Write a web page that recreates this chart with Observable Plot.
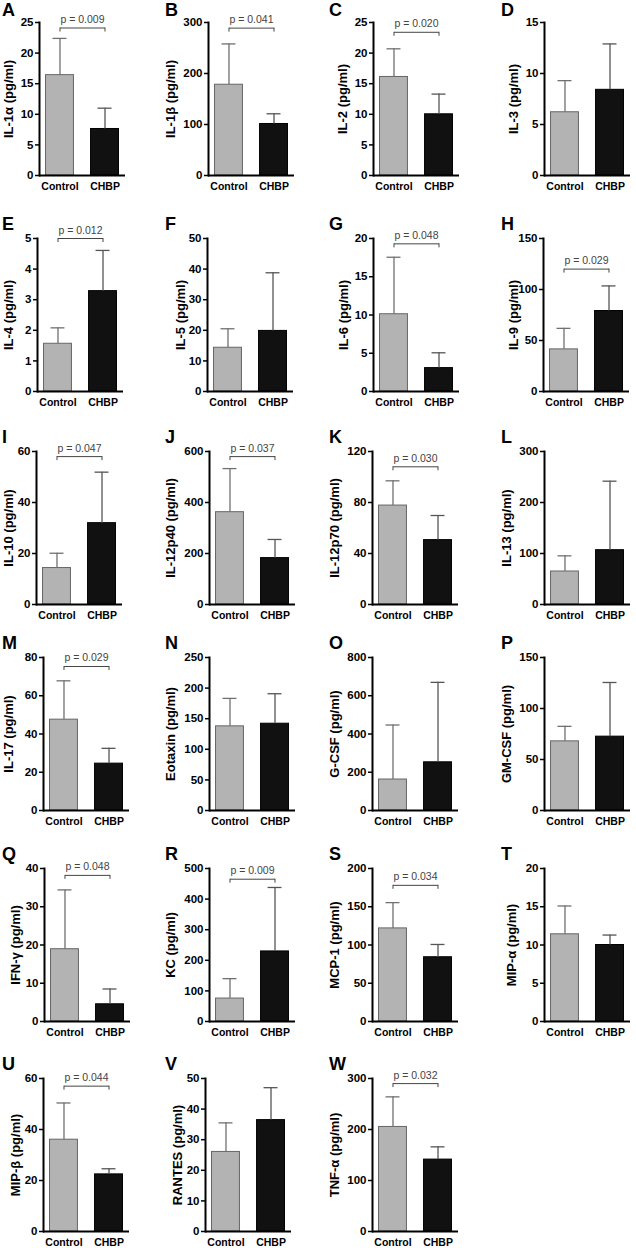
<!DOCTYPE html>
<html><head><meta charset="utf-8">
<script src="https://cdn.jsdelivr.net/npm/d3@7"></script>
<script src="https://cdn.jsdelivr.net/npm/@observablehq/plot@0.6"></script>
<style>
body{margin:0;background:#fff;}
#root{position:relative;width:636px;height:1248px;overflow:hidden;font-family:"Liberation Sans",Arial,sans-serif;}
.panel{position:absolute;}
.letter{position:absolute;font-family:"Liberation Sans",Arial,sans-serif;font-weight:700;font-size:18px;line-height:normal;color:#000;}
</style></head><body><div id="root"></div>
<script>
// ---------- data ----------
const groups = ["Control", "CHBP"];
const letters = ["A","B","C","D","E","F","G","H","I","J","K","L","M","N","O","P","Q","R","S","T","U","V","W"];
const analytes = ["IL-1α","IL-1β","IL-2","IL-3","IL-4","IL-5","IL-6","IL-9","IL-10","IL-12p40","IL-12p70","IL-13",
  "IL-17","Eotaxin","G-CSF","GM-CSF","IFN-γ","KC","MCP-1","MIP-α","MIP-β","RANTES","TNF-α"];
const controlMean = [16.4,178,16.1,6.2,1.56,14.3,10.1,41.3,14.3,362,77.6,64.7,47.5,137.5,162,67.8,18.9,75,121.7,11.4,36,26,205];
const controlSD   = [6.0,80,4.6,3.1,0.52,6.2,7.45,20.6,5.8,171,19.4,30.7,20.3,45.7,285,14.7,15.5,65,33.7,3.7,14.4,9.5,59];
const chbpMean    = [7.6,101,10.0,8.4,3.28,19.8,3.06,78.9,31.9,182,50.5,106.5,24.5,141.8,252,72.4,4.5,229,84,10.0,22.4,36.4,141];
const chbpSD      = [3.4,20,3.3,4.5,1.33,19.0,2.0,24.6,20.0,73,19.3,135.3,8.0,49,418,53.1,4.0,209,16.7,1.3,2.2,10.6,25];
const yMax  = [25,300,25,15,5,50,20,150,60,600,120,300,80,250,800,150,40,500,200,20,60,50,300];
const yStep = [5,100,5,5,1,10,5,50,20,200,40,100,20,50,200,50,10,100,50,5,20,10,100];
const pValues = ["0.009","0.041","0.020",null,"0.012",null,"0.048","0.029","0.047","0.037","0.030",null,
  "0.029",null,null,null,"0.048","0.009","0.034",null,"0.044",null,"0.032"];
const bracketAt = [24.1,289,23.4,null,5.0,null,19.3,120,58,580,108,null,75.3,null,null,null,38.2,465,178,null,57,null,290];

// ---------- layout ----------
const axisX = [39,208,373,544, 37,207,373,543, 36,209,372,544, 43,209,372,544, 44,209,372,544, 43,205,372];
const labelOffsets = [36,43,36,36, 34,32,35,35, 33,44,43,43, 40,44,43,43, 34,44,43,38, 33,33,43];
const rowTop = [22,238,451,657,868,1078];
const letterX = [2,165,329,501];
const ML = 52, MR = 3, MT = 14, MB = 24, PW = 86, PH = 153;
const PI = 0.38, PO = 0.145;
const bw = d3.scaleBand().domain(groups).range([0, PW]).paddingInner(PI).paddingOuter(PO).bandwidth();
const capInset = bw * 0.25;

const root = document.getElementById("root");
letters.forEach((L, i) => {
  const row = Math.floor(i / 4), col = i % 4;
  const rows = groups.map((g, k) => ({
    group: g,
    mean: k === 0 ? controlMean[i] : chbpMean[i],
    upper: (k === 0 ? controlMean[i] + controlSD[i] : chbpMean[i] + chbpSD[i])
  }));
  const errColor = d => d.group === "Control" ? "#707070" : "#555";
  const marks = [
    Plot.barY(rows, {x: "group", y: "mean", fill: d => d.group, stroke: d => d.group === "Control" ? "#666" : "#000", strokeWidth: 1}),
    Plot.ruleX(rows, {x: "group", y1: "mean", y2: "upper", stroke: errColor, strokeWidth: 1.3}),
    Plot.tickY(rows, {x: "group", y: "upper", stroke: errColor, strokeWidth: 1.3, insetLeft: capInset, insetRight: capInset}),
    Plot.ruleY([0], {stroke: "#000", strokeWidth: 2}),
    Plot.frame({anchor: "left", stroke: "#000", strokeWidth: 2}),
    Plot.axisY({ticks: d3.range(0, yMax[i] + yStep[i] / 2, yStep[i]), tickFormat: d => String(d), tickSize: 4, tickPadding: 2,
      fontSize: 11.5, fontWeight: "bold", strokeWidth: 1.5, label: null}),
    Plot.axisY({ticks: [], tickSize: 0, fontSize: 13, fontWeight: "bold",
      label: analytes[i] + " (pg/ml)", labelAnchor: "center", labelArrow: "none", labelOffset: labelOffsets[i]}),
    Plot.axisX({tickSize: 0, tickPadding: 7, fontSize: 10.5, fontWeight: "bold", label: null})
  ];
  if (pValues[i]) {
    const b = [{b: bracketAt[i]}];
    marks.push(
      Plot.link(b, {x1: () => groups[0], x2: () => groups[1], y1: "b", y2: "b", stroke: "#444", strokeWidth: 1}),
      Plot.ruleX(groups, {x: d => d, y1: () => bracketAt[i], y2: () => bracketAt[i], insetBottom: -4, stroke: "#444", strokeWidth: 1}),
      Plot.text(b, {y: "b", text: () => "p = " + pValues[i], dy: -5, lineAnchor: "bottom", fontSize: 10.5, fill: "#444"})
    );
  }
  const chart = Plot.plot({
    width: ML + PW + MR, height: MT + PH + MB,
    marginLeft: ML, marginRight: MR, marginTop: MT, marginBottom: MB,
    style: {fontFamily: "'Liberation Sans', Arial, sans-serif", background: "transparent", overflow: "visible", color: "#000"},
    x: {domain: groups, paddingInner: PI, paddingOuter: PO, align: 0.5, round: false},
    y: {domain: [0, yMax[i]]},
    color: {domain: groups, range: ["#b3b3b3", "#111"]},
    marks
  });
  const wrap = document.createElement("div");
  wrap.className = "panel";
  wrap.style.left = (axisX[i] - ML) + "px";
  wrap.style.top = (rowTop[row] - MT) + "px";
  wrap.appendChild(chart);
  root.appendChild(wrap);
  const lt = document.createElement("div");
  lt.className = "letter";
  lt.textContent = L;
  lt.style.left = letterX[col] + "px";
  lt.style.top = Math.max(0, rowTop[row] - 8 - 16.3) + "px";
  root.appendChild(lt);
});
</script></body></html>
